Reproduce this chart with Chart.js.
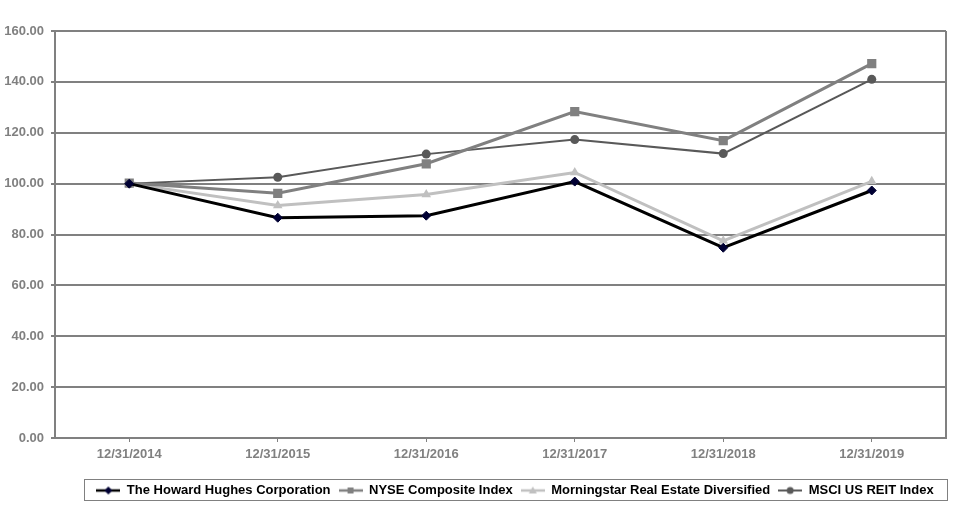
<!DOCTYPE html>
<html lang="en">
<head>
  <meta charset="UTF-8" />
  <title>Cumulative Total Return</title>
  <script src="https://cdn.jsdelivr.net/npm/chart.js"></script>
  <style>
    body { margin: 0; background: #fff; }
    .wrap { width: 957px; height: 507px; }
  </style>
</head>
<body>
  <div class="wrap"><canvas id="chart" width="957" height="507"></canvas></div>
  <script>
    // data
    const dates = ['12/31/2014', '12/31/2015', '12/31/2016', '12/31/2017', '12/31/2018', '12/31/2019'];
    const howardHughes = [100.00, 86.6, 87.4, 100.8, 74.8, 97.3];
    const nyseComposite = [100.2, 96.2, 107.8, 128.3, 116.9, 147.2];
    const morningstarRE = [100.00, 91.4, 95.7, 104.4, 77.5, 100.9];
    const msciReit = [100.00, 102.5, 111.6, 117.3, 111.8, 141.0];
    const yTicks = [0, 20, 40, 60, 80, 100, 120, 140, 160];

    const grey = '#808080';

    // small swatch (line + marker) used as legend symbol
    function swatch(color, lineW, shape, fill) {
      const c = document.createElement('canvas');
      c.width = 24; c.height = 12;
      const g = c.getContext('2d');
      g.strokeStyle = color; g.lineWidth = lineW;
      g.beginPath(); g.moveTo(0, 6); g.lineTo(24, 6); g.stroke();
      g.fillStyle = fill;
      g.beginPath();
      if (shape === 'diamond') { g.moveTo(12, 2); g.lineTo(16, 6); g.lineTo(12, 10); g.lineTo(8, 6); }
      else if (shape === 'square') { g.rect(9, 3, 6, 6); }
      else if (shape === 'triangle') { g.moveTo(12, 2); g.lineTo(16, 9); g.lineTo(8, 9); }
      else { g.arc(12, 6, 3.5, 0, Math.PI * 2); }
      g.fill();
      return c;
    }

    // nudge legend right a little and frame it
    const legendBorder = {
      id: 'legendBorder',
      afterLayout(chart) {
        const lg = chart.legend;
        if (!lg) return;
        lg.left += 42; lg.right += 42;
      },
      afterDraw(chart) {
        const lg = chart.legend;
        if (!lg || !lg.legendHitBoxes.length) return;
        const hb = lg.legendHitBoxes;
        const first = hb[0], last = hb[hb.length - 1];
        const ctx = chart.ctx;
        ctx.save();
        ctx.strokeStyle = '#808080';
        ctx.lineWidth = 1;
        ctx.strokeRect(Math.round(first.left - 12) + 0.5, Math.round(first.top - 5) + 0.5,
          Math.round(last.left + last.width - first.left + 26), 21);
        ctx.restore();
      }
    };

    const plotFrame = {
      id: 'plotFrame',
      beforeDatasetsDraw(chart) {
        const a = chart.chartArea, ctx = chart.ctx;
        ctx.save();
        ctx.strokeStyle = grey;
        ctx.lineWidth = 2;
        ctx.beginPath();
        ctx.moveTo(a.right, a.top); ctx.lineTo(a.right, a.bottom);
        ctx.stroke();
        ctx.restore();
      }
    };

    new Chart(document.getElementById('chart'), {
      type: 'line',
      data: {
        labels: dates,
        datasets: [
          { label: 'The Howard Hughes Corporation', data: howardHughes, borderColor: '#000000', borderWidth: 3,
            pointStyle: 'rectRot', pointRadius: 4.5, pointBackgroundColor: '#000033', pointBorderColor: '#000033', pointBorderWidth: 1,
            legendSym: swatch('#000000', 2.5, 'diamond', '#000033') },
          { label: 'NYSE Composite Index', data: nyseComposite, borderColor: grey, borderWidth: 3,
            pointStyle: 'rect', pointRadius: 6.5, pointBackgroundColor: grey, pointBorderColor: grey, pointBorderWidth: 0,
            legendSym: swatch(grey, 2.5, 'square', grey) },
          { label: 'Morningstar Real Estate Diversified', data: morningstarRE, borderColor: '#c0c0c0', borderWidth: 3,
            pointStyle: 'triangle', pointRadius: 5.5, pointBackgroundColor: '#c0c0c0', pointBorderColor: '#c0c0c0', pointBorderWidth: 0,
            legendSym: swatch('#c0c0c0', 2.5, 'triangle', '#c0c0c0') },
          { label: 'MSCI US REIT Index', data: msciReit, borderColor: '#595959', borderWidth: 2,
            pointStyle: 'circle', pointRadius: 4.5, pointBackgroundColor: '#595959', pointBorderColor: '#595959', pointBorderWidth: 0,
            legendSym: swatch('#595959', 2, 'circle', '#595959') }
        ]
      },
      options: {
        responsive: false,
        animation: false,
        tension: 0,
        layout: { padding: { left: 0, right: 11, top: 31, bottom: 0 } },
        scales: {
          x: {
            offset: true,
            border: { display: true, color: grey, width: 2 },
            grid: { display: true, drawOnChartArea: false, offset: false, color: grey, lineWidth: 1, tickLength: 4 },
            ticks: { color: grey, font: { family: 'Liberation Sans, Arial', size: 13, weight: 'bold' }, padding: 5, maxRotation: 0 },
            afterFit(s) { s.height = 38; }
          },
          y: {
            min: 0, max: 160,
            afterBuildTicks(s) { s.ticks = yTicks.map(v => ({ value: v })); },
            border: { display: true, color: grey, width: 2 },
            grid: { color: grey, lineWidth: 2, tickLength: 4 },
            ticks: {
              color: grey, font: { family: 'Liberation Sans, Arial', size: 13, weight: 'bold' }, padding: 7,
              callback: v => Number(v).toFixed(2)
            },
            afterFit(s) { s.width = 55; }
          }
        },
        plugins: {
          tooltip: { enabled: false },
          legend: {
            position: 'bottom',
            labels: {
              usePointStyle: true,
              pointStyleWidth: 24,
              boxHeight: 12,
              padding: 8,
              color: '#000',
              font: { family: 'Liberation Sans, Arial', size: 13, weight: 'bold' },
              generateLabels(chart) {
                return chart.data.datasets.map((d, i) => ({
                  text: d.label, pointStyle: d.legendSym, datasetIndex: i,
                  fontColor: '#000', lineWidth: 0, strokeStyle: 'transparent', fillStyle: 'transparent'
                }));
              }
            }
          }
        }
      },
      plugins: [plotFrame, legendBorder]
    });
  </script>
</body>
</html>
